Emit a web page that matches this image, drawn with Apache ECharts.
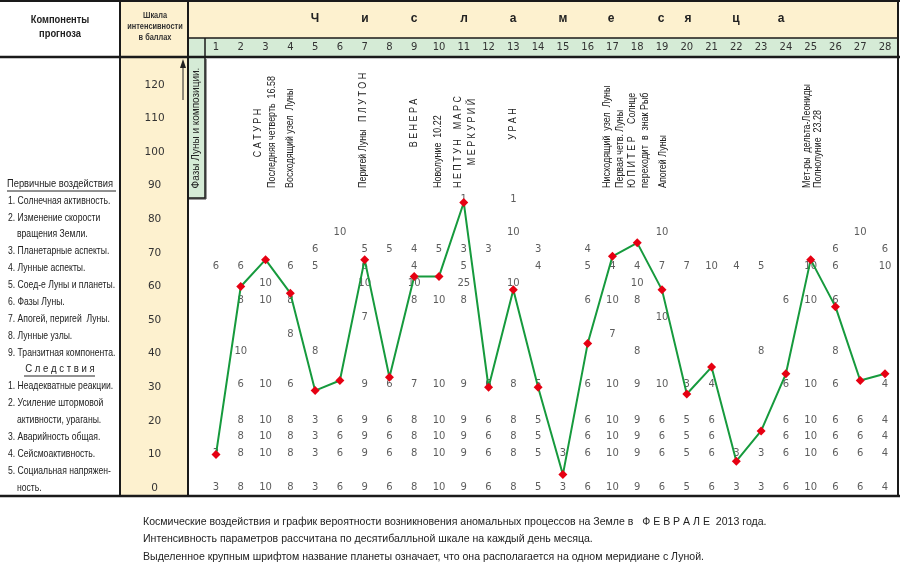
<!DOCTYPE html>
<html><head><meta charset="utf-8">
<script src="https://cdn.jsdelivr.net/npm/echarts@6/dist/echarts.min.js"></script>
<style>html,body{margin:0;padding:0;background:#fff}#c{width:900px;height:562px}</style>
</head><body><div id="c"></div>
<script>
// ---- DATA ----
const days = ['1','2','3','4','5','6','7','8','9','10','11','12','13','14','15','16','17','18','19','20','21','22','23','24','25','26','27','28'];
const intensity = [10, 60, 68, 58, 29, 32, 68, 33, 63, 63, 85, 30, 59, 30, 4, 43, 69, 73, 59, 28, 36, 8, 17, 34, 68, 54, 32, 34];
const _ = null;
// primary effects
const rowSolar     = [_,_,_,_,_,_,_,_,_,_,1,_,1,_,_,_,_,_,_,_,_,_,_,_,_,_,_,_];
const rowRotation  = [_,_,_,_,_,10,_,_,_,_,_,_,10,_,_,_,_,_,10,_,_,_,_,_,_,_,10,_];
const rowPlanetary = [_,_,_,_,6,_,5,5,4,5,3,3,_,3,_,4,_,_,_,_,_,_,_,_,_,6,_,6];
const rowLunarAsp  = [6,6,_,6,5,_,6,_,4,_,5,_,_,4,_,5,4,4,7,7,10,4,5,_,10,6,_,10];
const rowConj      = [_,_,10,_,_,_,10,_,10,_,25,_,10,_,_,_,_,10,_,_,_,_,_,_,_,_,_,_];
const rowPhases    = [_,8,10,8,_,_,_,_,8,10,8,_,_,_,_,6,10,8,_,_,_,_,_,6,10,6,_,_];
const rowApogee    = [_,_,_,_,_,_,7,_,_,_,_,_,_,_,_,_,_,_,10,_,_,_,_,_,_,_,_,_];
const rowNodes     = [_,_,_,8,_,_,_,_,_,_,_,_,_,_,_,_,7,_,_,_,_,_,_,_,_,_,_,_];
const rowTransit   = [_,10,_,_,8,_,_,_,_,_,_,_,_,_,_,_,_,8,_,_,_,_,8,_,_,8,_,_];
// consequences
const rowReactions = [_,6,10,6,_,_,9,6,7,10,9,6,8,5,_,6,10,9,10,3,4,_,_,6,10,6,_,4];
const rowStorms    = [_,8,10,8,3,6,9,6,8,10,9,6,8,5,_,6,10,9,6,5,6,_,_,6,10,6,6,4];
const rowAccidents = [_,8,10,8,3,6,9,6,8,10,9,6,8,5,_,6,10,9,6,5,6,_,_,6,10,6,6,4];
const rowSeismic   = [3,8,10,8,3,6,9,6,8,10,9,6,8,5,3,6,10,9,6,5,6,3,3,6,10,6,6,4];
const rowSocial    = [3,8,10,8,3,6,9,6,8,10,9,6,8,5,3,6,10,9,6,5,6,3,3,6,10,6,6,4];

// ---- layout (table row heights on the intensity scale) ----
const tableRows = [rowSolar,rowRotation,rowPlanetary,rowLunarAsp,rowConj,rowPhases,rowApogee,rowNodes,rowTransit,
                   rowReactions,rowStorms,rowAccidents,rowSeismic,rowSocial];
const rowLevels = [86, 76, 71, 66, 61, 56, 50.8, 45.7, 40.6, 30.7, 20.2, 15.3, 10.3, 0.2];

const tableData = [];
tableRows.forEach((r, ri) => r.forEach((v, di) => { if (v !== null) tableData.push([di, rowLevels[ri], v]); }));

const SANS = '"Liberation Sans",Arial,sans-serif';
const NUMF = '"DejaVu Sans",Verdana,sans-serif';
const INK = '#222';

function txt(x, y, text, o) {
  o = o || {};
  return { type: 'text', x: x, y: y, z: 60, rotation: o.rot || 0, scaleX: o.sx || 1, scaleY: 1,
    style: { text: text, fill: o.fill || INK, fontSize: o.size || 10.5, fontFamily: o.family || SANS,
      fontWeight: o.weight || 'normal', align: o.align || 'left', textAlign: o.align || 'left',
      verticalAlign: o.va || 'middle', textVerticalAlign: o.va || 'middle' } };
}
function line(x1, y1, x2, y2, w, c) {
  return { type: 'line', z: 50, shape: { x1: x1, y1: y1, x2: x2, y2: y2 }, style: { stroke: c || '#1a1a1a', lineWidth: w || 2 } };
}
function rect(x, y, w, h, fill, z) {
  return { type: 'rect', z: z || -10, shape: { x: x, y: y, width: w, height: h }, style: { fill: fill } };
}
const YEL = '#fdf1cf', GRN = '#d5ebd6';

const leftLabels = [
  ['1. Солнечная активность.', 8, 201], ['2. Изменение скорости', 8, 218], ['вращения Земли.', 17, 234],
  ['3. Планетарные аспекты.', 8, 251], ['4. Лунные аспекты.', 8, 268], ['5. Соед-е Луны и планеты.', 8, 285],
  ['6. Фазы Луны.', 8, 302], ['7. Апогей, перигей  Луны.', 8, 319], ['8. Лунные узлы.', 8, 336],
  ['9. Транзитная компонента.', 8, 353], ['1. Неадекватные реакции.', 8, 386], ['2. Усиление штормовой', 8, 403],
  ['активности, ураганы.', 17, 420], ['3. Аварийность общая.', 8, 437], ['4. Сейсмоактивность.', 8, 454],
  ['5. Социальная напряжен-', 8, 471], ['ность.', 17, 488]
];
const vertNotes = [
  ['С А Т У Р Н', 258, 133, 'center'], ['Последняя четверть  16.58', 272, 188, 'left'],
  ['Восходящий узел  Луны', 290, 188, 'left'], ['Перигей Луны   П Л У Т О Н', 363, 188, 'left'],
  ['В Е Н Е Р А', 414, 123, 'center'], ['Новолуние  10.22', 438, 188, 'left'],
  ['Н Е П Т У Н    М А Р С', 458, 188, 'left'], ['М Е Р К У Р И Й', 472, 132, 'center'],
  ['У Р А Н', 513, 124, 'center'], ['Нисходящий  узел  Луны', 607, 188, 'left'],
  ['Первая четв. Луны', 620, 188, 'left'], ['Ю П И Т Е Р     Солнце', 632, 188, 'left'],
  ['переходит  в  знак Рыб', 645, 188, 'left'], ['Апогей Луны', 663, 188, 'left'],
  ['Мет-ры  дельта-Леониды', 807, 188, 'left'], ['Полнолуние  23.28', 818, 188, 'left']
];
const headLetters = [['Ч',315],['и',365],['с',414],['л',464],['а',513],['м',563],['е',611],['с',661],['я',688],['ц',736],['а',781]];

const graphics = [
  rect(120, 0, 68, 496, YEL), rect(188, 0, 710, 38, YEL), rect(188, 38, 710, 19, GRN), rect(188, 57, 17, 141, GRN),
  line(0, 1, 900, 1, 2), line(0, 57, 900, 57, 2.5), line(188, 38, 898, 38, 1.5),
  line(120, 0, 120, 496, 2), line(188, 0, 188, 496, 2), line(205, 38, 205, 57, 1.5),
  line(898, 0, 898, 496, 2), line(0, 496, 900, 496, 2.5),
  { type: 'rect', z: 55, shape: { x: 188, y: 57, width: 17, height: 141 }, style: { fill: 'none', stroke: '#1a1a1a', lineWidth: 1.5 } },
  line(206, 59, 206, 199, 1.5, '#777'), line(189, 199, 206, 199, 1.5, '#777'),
  line(183, 100, 183, 66, 1, '#222'),
  { type: 'polygon', z: 55, shape: { points: [[183, 59], [180, 68], [186, 68]] }, style: { fill: '#222' } },
  txt(196, 128, 'Фазы Луны и композиции.', { rot: Math.PI / 2, align: 'center', size: 10 }),
  txt(60, 20, 'Компоненты', { weight: 'bold', size: 11, align: 'center', sx: 0.85 }),
  txt(60, 34, 'прогноза', { weight: 'bold', size: 11, align: 'center', sx: 0.85 }),
  txt(155, 16, 'Шкала', { weight: 'bold', size: 9, align: 'center', fill: '#333', sx: 0.82 }),
  txt(155, 27, 'интенсивности', { weight: 'bold', size: 9, align: 'center', fill: '#333', sx: 0.82 }),
  txt(155, 38, 'в баллах', { weight: 'bold', size: 9, align: 'center', fill: '#333', sx: 0.82 }),
  txt(7, 184, 'Первичные воздействия', { size: 11, sx: 0.85 }), line(7, 191, 116, 191, 1, '#222'),
  txt(60, 369, 'С л е д с т в и я', { size: 11, align: 'center', sx: 0.87 }), line(24, 376, 95, 376, 1, '#222'),
  txt(143, 522, 'Космические воздействия и график вероятности возникновения аномальных процессов на Земле в   Ф Е В Р А Л Е  2013 года.', { size: 11, sx: 0.96 }),
  txt(143, 539, 'Интенсивность параметров рассчитана по десятибалльной шкале на каждый день месяца.', { size: 11, sx: 0.96 }),
  txt(143, 557, 'Выделенное крупным шрифтом название планеты означает, что она располагается на одном меридиане с Луной.', { size: 11, sx: 0.96 })
];
leftLabels.forEach(l => graphics.push(txt(l[1], l[2], l[0], { size: 10.5, sx: 0.82 })));
vertNotes.forEach(n => graphics.push(txt(n[1], n[2], n[0], { rot: Math.PI / 2, align: n[3], size: 10.5, sx: 0.85 })));
headLetters.forEach(h => graphics.push(txt(h[1], 19, h[0], { align: 'center', weight: 'bold', size: 12 })));

const chart = echarts.init(document.getElementById('c'), null, { renderer: 'canvas' });
chart.setOption({
  animation: false,
  backgroundColor: '#fff',
  grid: { left: 203.6, top: 85, width: 693.8, height: 403 },
  xAxis: { type: 'category', data: days, position: 'top', boundaryGap: true,
    axisLine: { show: false }, axisTick: { show: false }, splitLine: { show: false },
    axisLabel: { margin: 33, fontSize: 10, color: '#333', fontFamily: NUMF, interval: 0 } },
  yAxis: { type: 'value', min: 0, max: 120, interval: 10,
    axisLine: { show: false }, axisTick: { show: false }, splitLine: { show: false },
    axisLabel: { align: 'center', margin: 49, fontSize: 10.5, color: '#333', fontFamily: NUMF } },
  graphic: { elements: graphics },
  series: [
    { type: 'scatter', data: tableData, symbolSize: 1, itemStyle: { color: 'rgba(0,0,0,0)' }, z: 2, silent: true,
      label: { show: true, position: 'inside', formatter: p => String(p.value[2]), fontSize: 10, color: '#333', fontFamily: NUMF } },
    { type: 'line', data: intensity, z: 5, symbol: 'diamond', symbolSize: 9, showSymbol: true,
      lineStyle: { color: '#169a3d', width: 2 }, itemStyle: { color: '#e60012' } }
  ]
});
</script></body></html>
